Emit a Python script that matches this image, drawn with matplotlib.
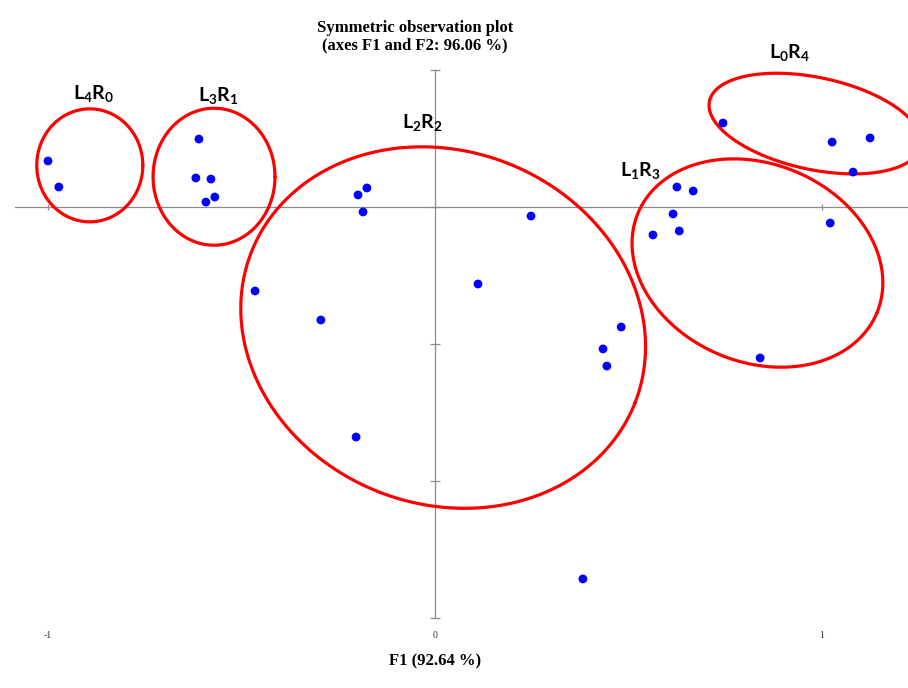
import numpy as np
import matplotlib
matplotlib.use("Agg")
import matplotlib.pyplot as plt

plt.rcParams['mathtext.fontset'] = 'custom'
plt.rcParams['mathtext.bf'] = 'Lato:bold'
plt.rcParams['mathtext.rm'] = 'Lato'

# ---- data (F1, F2 coordinates of observations) ----
f1 = [-1.000, -0.972,
      -0.610, -0.618, -0.579, -0.569, -0.592,
      -0.176, -0.199, -0.186, 0.248, -0.465, -0.295, 0.111, 0.481, 0.434, 0.444, -0.204, 0.382,
      0.625, 0.667, 0.615, 0.631, 0.563, 1.021, 0.840,
      0.744, 1.026, 1.124, 1.080]
f2 = [0.0336, 0.0146,
      0.0496, 0.0212, 0.0204, 0.0073, 0.0036,
      0.0139, 0.0088, -0.0036, -0.0066, -0.0613, -0.0825, -0.0562, -0.0876, -0.1036, -0.1161, -0.1679, -0.2715,
      0.0146, 0.0117, -0.0051, -0.0175, -0.0204, -0.0117, -0.1102,
      0.0613, 0.0474, 0.0504, 0.0255]

# group ellipses: label, centre (F1, F2), width/height (in F1 units), angle (deg)
groups = ['L4R0', 'L3R1', 'L2R2', 'L1R3', 'L0R4']
group_labels = [r'$\mathbf{L_4R_0}$', r'$\mathbf{L_3R_1}$', r'$\mathbf{L_2R_2}$',
                r'$\mathbf{L_1R_3}$', r'$\mathbf{L_0R_4}$']
ell_cx = [-0.892, -0.571, 0.021, 0.833, 0.982]
ell_cy = [0.0304, 0.0221, -0.0880, -0.0409, 0.0609]
ell_w = [0.274, 0.315, 1.065, 0.669, 0.558]
ell_h = [0.292, 0.354, 0.912, 0.512, 0.238]
ell_ang = [0, 0, -21.5, -22.7, -12]
label_x = [-0.882, -0.560, -0.034, 0.530, 0.917]
label_y = [0.0832, 0.0817, 0.0620, 0.0270, 0.1131]

x_ticks = [-1, 0, 1]
y_ticks = [0.1, 0.0, -0.1, -0.2, -0.3]

title = "Symmetric observation plot\n(axes F1 and F2: 96.06 %)"
xlabel = "F1 (92.64 %)"

# ---- figure ----
fig = plt.figure(figsize=(9.08, 6.88), dpi=100)
ax = fig.add_axes([0, 0, 1, 1])
ax.set_xlim(-1.124, 1.222)
ax.set_ylim(-0.3511, 0.1511)
ax.axis('off')

axis_col = '#8c8c8c'
ax.plot([-1.085, 1.222], [0, 0], color=axis_col, lw=0.9, zorder=1)
ax.plot([0, 0], [y_ticks[0], y_ticks[-1]], color=axis_col, lw=0.9, zorder=1)
ax.plot([0] * len(y_ticks), y_ticks, ls='none', marker='_', ms=7, mew=0.9, color=axis_col, zorder=1)
ax.plot([-1, 1], [0, 0], ls='none', marker='|', ms=5, mew=0.9, color=axis_col, zorder=1)

for t in x_ticks:
    ax.text(t, -0.3128, f"{t}", ha='center', va='center', fontsize=7,
            family='Liberation Serif', color='#333333')

# scale to draw ellipses in a visually isotropic space
fig.canvas.draw()
p0 = ax.transData.transform((0, 0))
p1 = ax.transData.transform((1, 1))
kx = p1[0] - p0[0]
ky = p1[1] - p0[1]
ratio = kx / ky

tt = np.linspace(0, 2 * np.pi, 400)
for cx, cy, w, h, ang in zip(ell_cx, ell_cy, ell_w, ell_h, ell_ang):
    a = np.deg2rad(ang)
    u = w / 2 * np.cos(tt)
    v = h / 2 * np.sin(tt)
    xr = u * np.cos(a) - v * np.sin(a)
    yr = u * np.sin(a) + v * np.cos(a)
    ax.plot(cx + xr, cy + yr * ratio, color='#ff0000', lw=2.3, zorder=2,
            solid_capstyle='round')

ax.scatter(f1, f2, s=40, color='#0000ff', edgecolors='none', zorder=3)

for lx, ly, lab in zip(label_x, label_y, group_labels):
    ax.text(lx, ly, lab, ha='center', va='center', fontsize=14, color='black')

ax.text(-0.0525, 0.1245, title, ha='center', va='center', fontsize=12,
        family='Liberation Serif', fontweight='bold', linespacing=1.1)
ax.text(0, -0.3314, xlabel, ha='center', va='center', fontsize=12,
        family='Liberation Serif', fontweight='bold')

fig.savefig('out.png', dpi=100)
